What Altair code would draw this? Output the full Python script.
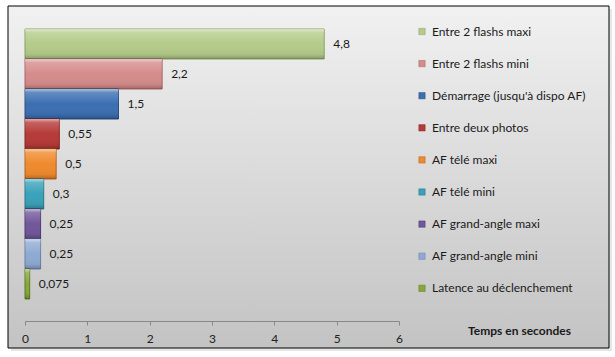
import altair as alt
import pandas as pd

categories = [
    "Entre 2 flashs maxi",
    "Entre 2 flashs mini",
    "Démarrage (jusqu'à dispo AF)",
    "Entre deux photos",
    "AF télé maxi",
    "AF télé mini",
    "AF grand-angle maxi",
    "AF grand-angle mini",
    "Latence au déclenchement",
]
values = [4.8, 2.2, 1.5, 0.55, 0.5, 0.3, 0.25, 0.25, 0.075]

fill_colors = ["#b4cb8a", "#d58c8b", "#3c6fb2", "#b63a38", "#ef8a2e",
               "#39a2ba", "#71579b", "#8faad2", "#86a83a"]
stroke_colors = ["#8aa060", "#a86462", "#2a4f80", "#842522", "#b8651c",
                 "#2a7588", "#4f3b70", "#6680a8", "#5f7a25"]

x_ticks = [0, 1, 2, 3, 4, 5, 6]

FONT = "Lato"

df = pd.DataFrame({"cat": categories, "val": values})

W, H = 374, 292

bg = alt.Chart(alt.Data(values=[{}])).mark_rect(
    fill=alt.Gradient(
        gradient="linear", x1=0, x2=0, y1=0, y2=1,
        stops=[alt.GradientStop(color="#f1f1f1", offset=0),
               alt.GradientStop(color="#c3c3c3", offset=1)],
    ),
    stroke="black", strokeWidth=1,
).encode(x=alt.value(-17), x2=alt.value(584), y=alt.value(-23), y2=alt.value(319))

shadow = alt.Chart(alt.Data(values=[{}])).mark_rect(
    fill="#e6e6e6"
).encode(x=alt.value(-14), x2=alt.value(587), y=alt.value(-20), y2=alt.value(322))

yenc = alt.Y("cat:N", sort=categories, axis=None,
             scale=alt.Scale(range=[0, 270], paddingInner=0, paddingOuter=0))
xenc = alt.X("val:Q",
             scale=alt.Scale(domain=[0, 6], nice=False),
             axis=alt.Axis(values=x_ticks, grid=False, title="Temps en secondes",
                           titleX=494, titleY=9, titleBaseline="middle",
                           titleAlign="center", titleFont=FONT, titleFontSize=12,
                           titleFontWeight="bold", titleColor="#1a1a1a",
                           labelFont=FONT, labelFontSize=12, labelColor="#222222",
                           labelPadding=8, domainColor="#888888", tickColor="#888888",
                           tickSize=4, labelFlush=False, zindex=2))

bars = alt.Chart(df).mark_bar(strokeWidth=1).encode(
    y=yenc, x=xenc,
    color=alt.Color("cat:N", sort=categories,
                    scale=alt.Scale(domain=categories, range=fill_colors),
                    legend=alt.Legend(orient="none", legendX=391, legendY=-3.5,
                                      title=None, symbolType="square",
                                      symbolSize=40, labelFont=FONT,
                                      labelFontSize=12, labelColor="#1a1a1a",
                                      rowPadding=20.1, labelOffset=4,
                                      symbolStrokeWidth=0.5, zindex=2)),
    stroke=alt.Stroke("cat:N", sort=categories,
                      scale=alt.Scale(domain=categories, range=stroke_colors),
                      legend=None),
)

sheen = alt.Chart(df).mark_bar(
    fill=alt.Gradient(
        gradient="linear", x1=0, x2=0, y1=0, y2=1,
        stops=[alt.GradientStop(color="rgba(255,255,255,0.6)", offset=0),
               alt.GradientStop(color="rgba(255,255,255,0.2)", offset=0.12),
               alt.GradientStop(color="rgba(255,255,255,0.0)", offset=0.5),
               alt.GradientStop(color="rgba(0,0,0,0.05)", offset=0.85),
               alt.GradientStop(color="rgba(0,0,0,0.25)", offset=1)],
    ),
).encode(y=yenc, x=xenc)

labels = alt.Chart(df).transform_calculate(
    lab="replace(format(datum.val, ''), '.', ',')"
).mark_text(align="left", baseline="middle", dx=9, font=FONT, fontSize=12,
            color="#1a1a1a").encode(y=yenc, x=xenc, text="lab:N")

chart = alt.layer(shadow, bg, bars, sheen, labels).properties(
    width=W, height=H,
    padding={"left": 25, "top": 29, "right": 216, "bottom": 36},
    autosize="none",
).configure_view(stroke=None).configure(background="white")

chart.save("out.html", embed_options={"renderer": "svg", "actions": False})
